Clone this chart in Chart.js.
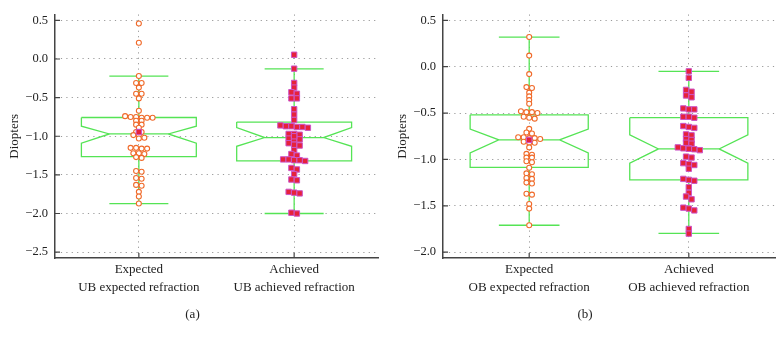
<!DOCTYPE html>
<html><head><meta charset="utf-8">
<script src="https://cdn.jsdelivr.net/npm/chart.js@4.4.1/dist/chart.umd.min.js"></script>
<style>
html,body{margin:0;padding:0;background:#fff;}
#wrap{position:relative;width:784px;height:340px;background:#fff;}
.panel{position:absolute;top:0;width:392px;height:340px;}
</style></head><body>
<div id="wrap">
<div class="panel" style="left:0"><canvas id="cA" width="392" height="340"></canvas></div>
<div class="panel" style="left:392px"><canvas id="cB" width="392" height="340"></canvas></div>
</div>
<script>
// ---------- data ----------
const categoriesA = [['Expected', 'UB expected refraction'], ['Achieved', 'UB achieved refraction']];
const categoriesB = [['Expected', 'OB expected refraction'], ['Achieved', 'OB achieved refraction']];
const panelLabels = ['(a)', '(b)'];
const yTitle = 'Diopters';

const ubExpected = [0.46, 0.21, -0.22, -0.31, -0.31, -0.37, -0.45, -0.45, -0.51, -0.67,
  -0.74, -0.75, -0.75, -0.76, -0.76, -0.76,
  -0.80, -0.80, -0.85, -0.85, -0.89,
  -0.945, -0.945, -0.985, -0.985, -1.02, -1.03,
  -1.15, -1.15, -1.16, -1.16, -1.22, -1.22, -1.23, -1.27, -1.28,
  -1.45, -1.46, -1.54, -1.55, -1.63, -1.64, -1.72, -1.78, -1.87];
const ubAchieved = [0.055, -0.125, -0.31, -0.37, -0.43, -0.45, -0.51, -0.51, -0.65, -0.72, -0.79,
  -0.86, -0.87, -0.87, -0.88, -0.88, -0.89,
  -0.97, -0.97, -0.98,
  -1.03, -1.04, -1.04,
  -1.09, -1.11, -1.12,
  -1.18, -1.23, -1.25,
  -1.30, -1.30, -1.31, -1.31, -1.32,
  -1.41, -1.43, -1.49, -1.56, -1.57,
  -1.72, -1.73, -1.74, -1.99, -2.00];
const obExpected = [0.32, 0.12, -0.08, -0.22, -0.23, -0.28, -0.32, -0.36, -0.40,
  -0.48, -0.49, -0.49, -0.50, -0.54, -0.55, -0.56,
  -0.67, -0.71, -0.72,
  -0.76, -0.76, -0.77, -0.77, -0.78,
  -0.81, -0.82, -0.82, -0.87,
  -0.94, -0.95, -0.98, -0.98, -1.02, -1.03, -1.09,
  -1.15, -1.16, -1.20, -1.21, -1.25, -1.26, -1.37, -1.38, -1.48, -1.53, -1.71];
const obAchieved = [-0.05, -0.12, -0.25, -0.27, -0.31, -0.33,
  -0.45, -0.46, -0.46, -0.54, -0.54, -0.55,
  -0.64, -0.65, -0.66, -0.73, -0.74, -0.78, -0.79, -0.82, -0.83,
  -0.87, -0.88, -0.88, -0.89, -0.90,
  -0.97, -0.98, -1.04, -1.05, -1.06, -1.10,
  -1.21, -1.22, -1.23, -1.30, -1.36, -1.40, -1.43,
  -1.52, -1.53, -1.55, -1.75, -1.80];

// box statistics: [whiskerLow, q1, notchLow, median, notchHigh, q3, whiskerHigh]
const ubExpectedBox = [-1.873, -1.265, -1.09, -0.97, -0.87, -0.757, -0.223];
const ubAchievedBox = [-2.00, -1.32, -1.13, -1.017, -0.887, -0.816, -0.127];
const obExpectedBox = [-1.71, -1.086, -0.929, -0.789, -0.673, -0.519, 0.32];
const obAchievedBox = [-1.797, -1.22, -1.04, -0.887, -0.736, -0.55, -0.05];
const meansA = [-0.945, -1.00];
const meansB = [-0.79, -0.885];

const yTicksA = [0.5, 0.0, -0.5, -1.0, -1.5, -2.0, -2.5];
const yTicksB = [0.5, 0.0, -0.5, -1.0, -1.5, -2.0];

// ---------- style ----------
const SERIF = '"Liberation Serif", "DejaVu Serif", serif';
const GREEN = '#55e455';
const TEXT = '#222222';
const AXIS = '#444444';
const GRID = '#9a9a9a';
const BOX_HALF = 0.37, NOTCH_HALF = 0.19, CAP_HALF = 0.19;
const SWARM_STEP_PX = 5.5, ROW_PX = 3;

function boxOutline(c, s) {
  const [wl, q1, nl, md, nh, q3, wh] = s;
  const gap = {x: c, y: null};
  return [
    {x: c - BOX_HALF, y: q3}, {x: c + BOX_HALF, y: q3}, {x: c + BOX_HALF, y: nh},
    {x: c + NOTCH_HALF, y: md}, {x: c + BOX_HALF, y: nl}, {x: c + BOX_HALF, y: q1},
    {x: c - BOX_HALF, y: q1}, {x: c - BOX_HALF, y: nl}, {x: c - NOTCH_HALF, y: md},
    {x: c - BOX_HALF, y: nh}, {x: c - BOX_HALF, y: q3}, gap,
    {x: c - NOTCH_HALF, y: md}, {x: c + NOTCH_HALF, y: md}, gap,
    {x: c, y: q3}, {x: c, y: wh}, gap,
    {x: c - CAP_HALF, y: wh}, {x: c + CAP_HALF, y: wh}, gap,
    {x: c, y: q1}, {x: c, y: wl}, gap,
    {x: c - CAP_HALF, y: wl}, {x: c + CAP_HALF, y: wl}
  ];
}

const circleStyle = {pointStyle: 'circle', pointRadius: 2.5, pointBorderWidth: 1.1,
  borderColor: '#f06a2a', backgroundColor: '#ffffff', showLine: false};
const squareStyle = {pointStyle: 'rect', pointRadius: 3.8, pointBorderWidth: 1,
  borderColor: '#cc55c8', backgroundColor: '#e6223a', showLine: false};

const inwardTicks = {
  id: 'inwardTicks',
  afterDraw(chart) {
    const {ctx, chartArea: a, scales: {x, y}} = chart;
    ctx.save();
    ctx.strokeStyle = AXIS; ctx.lineWidth = 1.2;
    ctx.beginPath();
    y.ticks.forEach(t => { const p = y.getPixelForValue(t.value); ctx.moveTo(a.left, p); ctx.lineTo(a.left + 5, p); });
    x.ticks.forEach(t => { const p = x.getPixelForValue(t.value); ctx.moveTo(p, a.bottom); ctx.lineTo(p, a.bottom - 5); });
    ctx.stroke();
    ctx.restore();
  }
};

function fmt(v) { return (v < 0 ? '\u2212' : '') + Math.abs(v).toFixed(1); }

function makeChart(id, cats, expVals, achVals, expBox, achBox, means, yTicks, yMin, yMax, label, padL, padR) {
  const chart = new Chart(document.getElementById(id), {
    type: 'scatter',
    data: {datasets: [
      {data: boxOutline(1, expBox), showLine: true, borderColor: GREEN, borderWidth: 1.3, pointRadius: 0, spanGaps: false, tension: 0, order: 3},
      {data: boxOutline(2, achBox), showLine: true, borderColor: GREEN, borderWidth: 1.3, pointRadius: 0, spanGaps: false, tension: 0, order: 3},
      Object.assign({data: expVals.map(v => ({x: 1, y: v})), order: 2}, circleStyle),
      Object.assign({data: achVals.map(v => ({x: 2, y: v})), order: 2}, squareStyle),
      Object.assign({data: means.map((v, i) => ({x: i + 1, y: v})), order: 1}, squareStyle)
    ]},
    options: {
      animation: false, responsive: false,
      layout: {autoPadding: false, padding: {left: padL, right: padR, top: 8, bottom: 0}},
      plugins: {
        legend: {display: false}, tooltip: {enabled: false},
        title: {display: true, text: label, position: 'bottom', color: TEXT,
          font: {family: SERIF, size: 13, weight: 'normal', lineHeight: 1.2}, padding: {top: 8, bottom: 18}}
      },
      scales: {
        x: {
          type: 'linear', min: 0.46, max: 2.54,
          afterBuildTicks: s => { s.ticks = [{value: 1}, {value: 2}]; },
          afterFit: s => { s.height = 40.4; },
          ticks: {callback: (v, i) => cats[i], color: TEXT, padding: 3, maxRotation: 0, autoSkip: false,
            font: {family: SERIF, size: 13, lineHeight: 1.35}},
          grid: {color: GRID, lineWidth: 1, drawTicks: false},
          border: {display: true, color: AXIS, width: 1.5, dash: [1.2, 4.2]}
        },
        y: {
          type: 'linear', min: yMin, max: yMax,
          afterBuildTicks: s => { s.ticks = yTicks.map(v => ({value: v})); },
          afterFit: s => { s.width = 48; },
          ticks: {callback: v => fmt(v), color: TEXT, padding: 7, font: {family: SERIF, size: 12.5}},
          title: {display: true, text: yTitle, color: TEXT, padding: 0, font: {family: SERIF, size: 13}},
          grid: {color: GRID, lineWidth: 1, drawTicks: false},
          border: {display: true, color: AXIS, width: 1.5, dash: [1.2, 4.2]}
        }
      }
    },
    plugins: [inwardTicks]
  });
  // beeswarm spread computed through the chart's own scales
  const xs = chart.scales.x, ys = chart.scales.y;
  const step = SWARM_STEP_PX / (xs.getPixelForValue(2) - xs.getPixelForValue(1));
  [[2, expVals, 1], [3, achVals, 2]].forEach(([di, vals, c]) => {
    const sorted = vals.slice().sort((a, b) => b - a);
    const groups = [];
    sorted.forEach(v => {
      const py = ys.getPixelForValue(v);
      const g = groups[groups.length - 1];
      if (g && Math.abs(py - g.py0) < ROW_PX) g.vals.push(v); else groups.push({py0: py, vals: [v]});
    });
    const out = [];
    groups.forEach(g => { const n = g.vals.length; g.vals.forEach((v, i) => out.push({x: c + (i - (n - 1) / 2) * step, y: v})); });
    chart.data.datasets[di].data = out;
  });
  chart.update('none');
  return chart;
}

makeChart('cA', categoriesA, ubExpected, ubAchieved, ubExpectedBox, ubAchievedBox, meansA, yTicksA, -2.576, 0.576, panelLabels[0], 7, 14);
makeChart('cB', categoriesB, obExpected, obAchieved, obExpectedBox, obAchievedBox, meansB, yTicksB, -2.063, 0.563, panelLabels[1], 3, 9);
</script>
</body></html>
